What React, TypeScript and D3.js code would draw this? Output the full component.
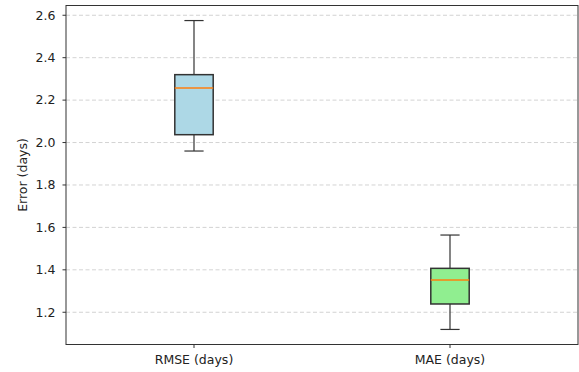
import React from "react";
import * as d3 from "d3";

// box statistics
const categories = ["RMSE (days)", "MAE (days)"];
const whiskerLow = [1.96, 1.119];
const q1 = [2.037, 1.239];
const medians = [2.257, 1.352];
const q3 = [2.32, 1.407];
const whiskerHigh = [2.575, 1.564];
const fills = ["#add8e6", "#90ee90"];
const yTicks = [1.2, 1.4, 1.6, 1.8, 2.0, 2.2, 2.4, 2.6];

const W = 579;
const H = 372;
const left = 66;
const right = 578;
const top = 5.5;
const bottom = 344.5;

const App = () => {
  const x = d3.scaleLinear().domain([0.5, 2.5]).range([left, right]);
  const y = d3.scaleLinear().domain([1.048, 2.646]).range([bottom, top]);
  const boxHalf = x(1.075) - x(1);
  const capHalf = x(1.0375) - x(1);
  const font = "DejaVu Sans, sans-serif";

  return (
    <svg
      width={W}
      height={H}
      style={{ position: "absolute", left: 0, top: 0 }}
      fontFamily={font}
    >
      <rect x={0} y={0} width={W} height={H} fill="white" />
      {/* grid */}
      {yTicks.map((t) => (
        <line
          key={"g" + t}
          x1={left}
          x2={right}
          y1={y(t)}
          y2={y(t)}
          stroke="#b0b0b0"
          strokeOpacity={0.7}
          strokeDasharray="4,2.5"
          strokeWidth={0.8}
        />
      ))}
      {/* boxes */}
      {categories.map((c, i) => {
        const cx = x(i + 1);
        return (
          <g key={c} stroke="#333" strokeWidth={1.2}>
            <line x1={cx} x2={cx} y1={y(q3[i])} y2={y(whiskerHigh[i])} />
            <line x1={cx} x2={cx} y1={y(q1[i])} y2={y(whiskerLow[i])} />
            <line x1={cx - capHalf} x2={cx + capHalf} y1={y(whiskerHigh[i])} y2={y(whiskerHigh[i])} />
            <line x1={cx - capHalf} x2={cx + capHalf} y1={y(whiskerLow[i])} y2={y(whiskerLow[i])} />
            <rect
              x={cx - boxHalf}
              y={y(q3[i])}
              width={boxHalf * 2}
              height={y(q1[i]) - y(q3[i])}
              fill={fills[i]}
              strokeWidth={1.5}
            />
            <line
              x1={cx - boxHalf}
              x2={cx + boxHalf}
              y1={y(medians[i])}
              y2={y(medians[i])}
              stroke="#ff7f0e"
              strokeWidth={1.5}
            />
          </g>
        );
      })}
      {/* frame */}
      <rect
        x={left}
        y={top}
        width={right - left}
        height={bottom - top}
        fill="none"
        stroke="#333"
        strokeWidth={1}
      />
      {/* y ticks */}
      {yTicks.map((t) => (
        <g key={"t" + t}>
          <line x1={left - 3.5} x2={left} y1={y(t)} y2={y(t)} stroke="#333" />
          <text
            x={left - 10.5}
            y={y(t)}
            dy="0.35em"
            textAnchor="end"
            fontSize={12.5}
            fill="#222"
          >
            {t.toFixed(1)}
          </text>
        </g>
      ))}
      {/* x ticks */}
      {categories.map((c, i) => (
        <g key={"x" + c}>
          <line x1={x(i + 1)} x2={x(i + 1)} y1={bottom} y2={bottom + 3.5} stroke="#333" />
          <text
            x={x(i + 1)}
            y={bottom + 19}
            textAnchor="middle"
            fontSize={12.5}
            fill="#222"
          >
            {c}
          </text>
        </g>
      ))}
      <text
        transform={`translate(${27},${(top + bottom) / 2}) rotate(-90)`}
        textAnchor="middle"
        fontSize={12.5}
        fill="#222"
      >
        Error (days)
      </text>
    </svg>
  );
};

export default App;
